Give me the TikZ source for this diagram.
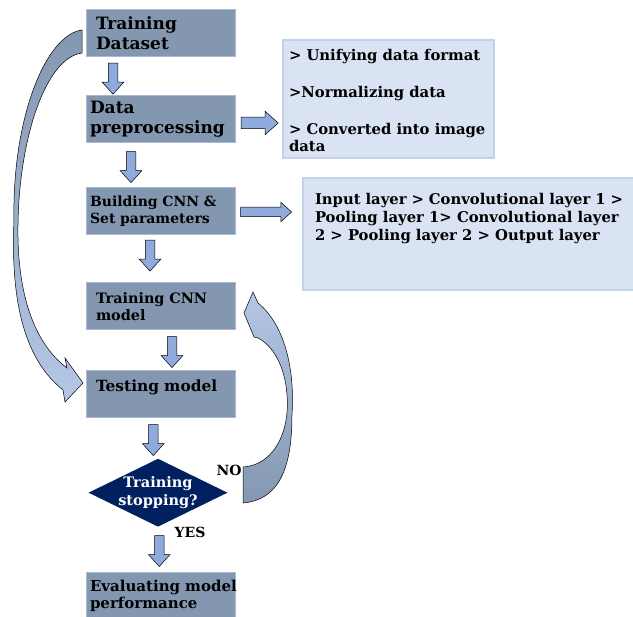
\documentclass[tikz,border=0pt]{standalone}
\usepackage{fontspec}
\setmainfont{DejaVu Serif}
\usetikzlibrary{positioning,calc,shapes.geometric,shapes.arrows}

\definecolor{boxfill}{HTML}{8497B0}
\definecolor{boxline}{HTML}{A9B9D1}
\definecolor{notefill}{HTML}{DAE3F3}
\definecolor{noteline}{HTML}{C3D1EA}
\definecolor{arrowfill}{HTML}{8FAADC}
\definecolor{navy}{HTML}{002060}
\definecolor{curvelight}{HTML}{B4C7E7}
\definecolor{curvedark}{HTML}{8497B0}

\begin{document}
\begin{tikzpicture}[x=1pt,y=-1pt,node distance=40pt,
  step node/.style={rectangle,fill=boxfill,draw=boxline,line width=1pt,
    minimum width=149pt,minimum height=47pt,text width=141pt,inner xsep=4pt,
    align=left,font=\bfseries\fontsize{14}{17}\selectfont},
  big text/.style={font=\bfseries\fontsize{17}{20}\selectfont},
  indented/.style={inner xsep=10pt,text width=129pt},
  note node/.style={rectangle,fill=notefill,draw=noteline,line width=1.5pt,
    font=\bfseries\fontsize{14.8}{17}\selectfont},
  down arrow/.style={single arrow,shape border rotate=270,draw=black,line width=0.5pt,
    fill=arrowfill,inner sep=4.5pt,single arrow head extend=6pt,
    single arrow tip angle=84,minimum height=31pt},
  right arrow/.style={single arrow,draw=black,line width=0.5pt,fill=arrowfill,
    inner sep=5pt,single arrow head extend=6pt,single arrow tip angle=84},
  curved arrow/.style={draw=black,line width=0.5pt},
  answer/.style={font=\bfseries\fontsize{14}{16}\selectfont}]

  \useasboundingbox (0,0) rectangle (633,617);

  % main column
  \node[step node,big text,indented] (ds) at (160.5,33.5) {Training\\Dataset};
  \node[step node,big text] (pre) [below=38pt of ds] {Data\\preprocessing};
  \node[step node] (build) [below=44pt of pre] {Building CNN \&\\Set parameters};
  \node[step node,indented,inner xsep=9pt,font=\bfseries\fontsize{14.4}{17}\selectfont] (trainm) [below=47pt of build] {Training CNN\\model};
  \node[step node,indented,font=\bfseries\fontsize{15.4}{17}\selectfont] (test) [below of=trainm,node distance=88pt] {\raisebox{17pt}{Testing model}};
  \node[diamond,fill=navy,minimum width=139pt,minimum height=68pt,inner sep=0pt,
    label={[text=white,align=center,font=\bfseries\fontsize{14.5}{18}\selectfont]center:Training\\stopping?}]
    (dia) [below=40pt of test,xshift=-2.5pt] {};
  \node[step node,font=\bfseries\fontsize{15}{17}\selectfont] (eval) [below=45pt of dia,xshift=2.5pt] {\mbox{Evaluating model}\\performance};

  % notes on the right
  \node[note node,inner xsep=6pt,inner ysep=5pt] (note1) at (388.5,99)
    {\parbox[c][108pt][t]{199pt}{\vspace*{4pt}> Unifying data format\\[20pt]>Normalizing data\\[20pt]> Converted into image\\data}};
  \node[note node,inner xsep=12pt,inner ysep=12pt,font=\bfseries\fontsize{14.8}{18}\selectfont] (note2) at (469,234)
    {\parbox[c][88pt][t]{308pt}{\vspace*{3pt}Input layer > Convolutional layer 1 >\\Pooling layer 1> Convolutional layer\\2 > Pooling layer 2 > Output layer}};

  % block arrows
  \node[down arrow] (a1) at ($(ds.south)!0.5!(pre.north)+(-47.5,-0.5)$) {};
  \node[down arrow] (a2) at ($(pre.south)!0.5!(build.north)+(-29.5,-1)$) {};
  \node[down arrow] (a3) at ($(build.south)!0.5!(trainm.north)+(-10.5,-6)$) {};
  \node[down arrow] (a4) at ($(trainm.south)!0.5!(test.north)+(11.5,-1)$) {};
  \node[down arrow] (a5) at ($(test.south)!0.5!(dia.north)+(-6,-1)$) {};
  \node[down arrow] (a6) at ($(dia.south)!0.5!(eval.north)+(0,-1)$) {};
  \node[right arrow,minimum height=37pt,inner sep=5.5pt] (r1) at ($(pre.east)+(21,3.5)$) {};
  \node[right arrow,minimum height=51pt,inner sep=4.5pt,single arrow head extend=5pt] (r2) at ($(build.east)+(28,0.5)$) {};

  \node[answer] (no) at (229,470) {NO};
  \node[answer] (yes) at (190,532) {YES};

  % dataset to testing
  \draw[curved arrow,top color=curvedark,bottom color=curvelight]
    (82,30) .. controls (45,35) and (12,120) .. (14,220)
    .. controls (10,310) and (28,362) .. (63,390) -- (65,402) -- (83,383) -- (65,358) -- (67,368)
    .. controls (30,340) and (17,285) .. (18,225)
    .. controls (19,140) and (45,58) .. (82,53) -- cycle;
  % back to training
  \draw[curved arrow,top color=curvelight,bottom color=curvedark]
    (243,503) -- (243,467) .. controls (275,465) and (290,430) .. (287,395)
    .. controls (285,365) and (272,345) .. (258,338) -- (254,337) -- (244,313) -- (253,292) -- (258,303)
    .. controls (285,325) and (295,370) .. (292,415)
    .. controls (292,470) and (278,500) .. (243,503) -- cycle;
\end{tikzpicture}
\end{document}
